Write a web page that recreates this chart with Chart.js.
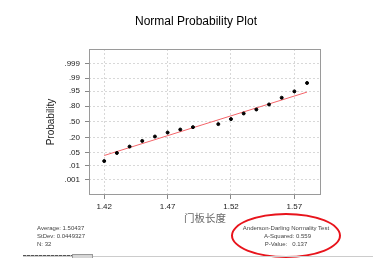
<!DOCTYPE html>
<html>
<head>
<meta charset="utf-8">
<script src="https://cdn.jsdelivr.net/npm/chart.js@4"></script>
<style>
  body { margin: 0; background: #fff; }
  #wrap { position: relative; width: 386px; height: 272px; overflow: hidden; }
  #probChart { position: absolute; left: 0; top: 0; }
  #title { position: absolute; left: 96px; top: 14px; width: 200px; text-align: center; font-family: "Liberation Sans", Arial, sans-serif; font-size: 12px; line-height: 14px; color: #000; }
  .note { position: absolute; font-family: "Liberation Sans", Arial, sans-serif; font-size: 6px; line-height: 7.8px; color: #444; white-space: pre; }
  #ellipse { position: absolute; left: 231px; top: 213px; width: 106px; height: 41px; border: 2px solid #e8141c; border-radius: 50%; }
  #bar { position: absolute; left: 23px; top: 256px; width: 350px; height: 1px; background: #ccc; }
  #barDark { position: absolute; left: 23px; top: 255px; width: 49px; height: 1px; background: repeating-linear-gradient(90deg, #555 0 3px, #bbb 3px 4px); }
  #barBox { position: absolute; left: 72px; top: 254px; width: 19px; height: 3px; background: #d6d6d6; border: 1px solid #999; border-bottom: none; }
</style>
</head>
<body>
<div id="wrap">
  <canvas id="probChart" width="386" height="272"></canvas>
  <div id="title">Normal Probability Plot</div>
  <div class="note" style="left:37px; top:225px;">Average: 1.50437
StDev: 0.0449327
N: 32</div>
  <div id="ellipse"></div>
  <div class="note" style="left:236px; top:225px; width:100px; text-align:center;">Anderson-Darling Normality Test
  A-Squared: 0.559
P-Value:   0.137</div>
  <div id="bar"></div>
  <div id="barDark"></div>
  <div id="barBox"></div>
</div>
<script>
// observed values (x) and their plotted cumulative probabilities
const lengths = [1.42, 1.43, 1.44, 1.45, 1.46, 1.47, 1.48, 1.49, 1.51, 1.52, 1.53, 1.54, 1.55, 1.56, 1.57, 1.58];
const probs = [0.018, 0.048, 0.093, 0.154, 0.216, 0.283, 0.340, 0.388, 0.451, 0.558, 0.672, 0.745, 0.823, 0.901, 0.948, 0.981];

// fitted normal line end points
const fitX = [1.42, 1.58];
const fitP = [0.036, 0.944];

const xTicks = [1.42, 1.47, 1.52, 1.57];
const probTicks = [0.001, 0.01, 0.05, 0.20, 0.50, 0.80, 0.95, 0.99, 0.999];
const probLabels = [".001", ".01", ".05", ".20", ".50", ".80", ".95", ".99", ".999"];

// inverse normal cdf (Acklam)
function probit(p) {
  const a = [-39.6968302866538, 220.946098424521, -275.928510446969, 138.357751867269, -30.6647980661472, 2.50662827745924];
  const b = [-54.4760987982241, 161.585836858041, -155.698979859887, 66.8013118877197, -13.2806815528857];
  const c = [-0.00778489400243029, -0.322396458041136, -2.40075827716184, -2.54973253934373, 4.37466414146497, 2.93816398269878];
  const d = [0.00778469570904146, 0.32246712907004, 2.445134137143, 3.75440866190742];
  const lo = 0.02425;
  let q, r;
  if (p < lo) {
    q = Math.sqrt(-2 * Math.log(p));
    return (((((c[0]*q+c[1])*q+c[2])*q+c[3])*q+c[4])*q+c[5]) / ((((d[0]*q+d[1])*q+d[2])*q+d[3])*q+1);
  }
  if (p > 1 - lo) {
    q = Math.sqrt(-2 * Math.log(1 - p));
    return -(((((c[0]*q+c[1])*q+c[2])*q+c[3])*q+c[4])*q+c[5]) / ((((d[0]*q+d[1])*q+d[2])*q+d[3])*q+1);
  }
  q = p - 0.5;
  r = q * q;
  return (((((a[0]*r+a[1])*r+a[2])*r+a[3])*r+a[4])*r+a[5])*q / (((((b[0]*r+b[1])*r+b[2])*r+b[3])*r+b[4])*r+1);
}

const frame = {
  id: "frame",
  afterDraw(chart) {
    const { ctx, chartArea: a } = chart;
    ctx.save();
    ctx.strokeStyle = "#9a9a9a";
    ctx.lineWidth = 1;
    ctx.strokeRect(a.left + 0.5, a.top + 0.5, a.right - a.left - 1, a.bottom - a.top - 1);
    ctx.restore();
  }
};

const chart = new Chart(document.getElementById("probChart").getContext("2d"), {
  type: "scatter",
  data: {
    datasets: [
      {
        data: lengths.map((x, i) => ({ x: x, y: probit(probs[i]) })),
        backgroundColor: "#000",
        borderColor: "#000",
        pointRadius: 1.5,
        order: 1,
      },
      {
        type: "line",
        data: fitX.map((x, i) => ({ x: x, y: probit(fitP[i]) })),
        borderColor: "#f4656a",
        borderWidth: 1,
        pointRadius: 0,
        order: 2,
      },
    ],
  },
  options: {
    responsive: false,
    animation: false,
    events: [],
    layout: { padding: { left: 0, right: 65, top: 49, bottom: 0 } },
    plugins: {
      legend: { display: false },
      tooltip: { enabled: false },
      title: { display: false },
    },
    scales: {
      x: {
        type: "linear",
        min: 1.408,
        max: 1.591,
        afterBuildTicks: (s) => { s.ticks = xTicks.map((v) => ({ value: v })); },
        afterFit: (s) => { s.height = 77; },
        ticks: {
          color: "#222",
          font: { family: "Liberation Sans", size: 8 },
          padding: 3,
          maxRotation: 0,
          callback: (v) => v.toFixed(2),
        },
        grid: {
          color: "#d8d8d8",
          tickColor: "#888",
          tickLength: 4,
        },
        border: { display: false, dash: [2, 2] },
        title: {
          display: true,
          text: "门板长度",
          color: "#666",
          font: { family: "Noto Sans CJK SC", size: 10.5, lineHeight: 1.2 },
          padding: { top: 0, bottom: 47.7 },
        },
      },
      y: {
        type: "linear",
        min: -3.91,
        max: 3.89,
        afterBuildTicks: (s) => { s.ticks = probTicks.map((p) => ({ value: probit(p) })); },
        afterFit: (s) => { s.width = 89; },
        ticks: {
          color: "#222",
          font: { family: "Liberation Sans", size: 8 },
          padding: 5,
          callback: (v, i) => probLabels[i],
        },
        grid: {
          color: "#d8d8d8",
          tickColor: "#888",
          tickLength: 4,
        },
        border: { display: false, dash: [2, 2] },
        title: {
          display: true,
          text: "Probability",
          color: "#222",
          font: { family: "Liberation Sans", size: 10, lineHeight: 1.2 },
          padding: { top: 45.7, bottom: 0 },
        },
      },
    },
  },
  plugins: [frame],
});
</script>
</body>
</html>
